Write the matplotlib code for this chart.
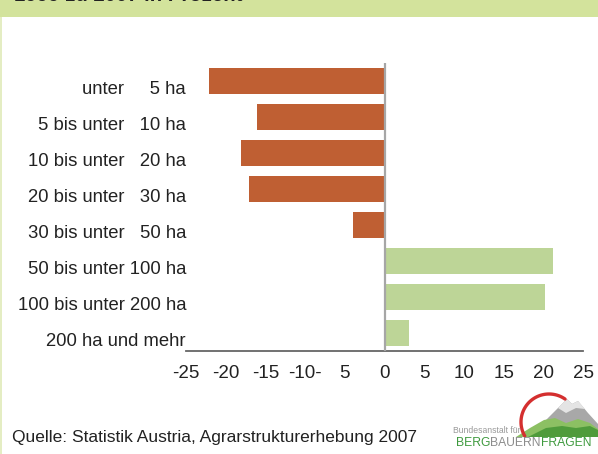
import matplotlib.pyplot as plt
import matplotlib.transforms as mtrans
import numpy as np
from matplotlib.patches import Polygon, Rectangle

plt.rcParams['font.family'] = ['Liberation Sans', 'DejaVu Sans']

# Veraenderung der Betriebe nach Groessenklassen, 1999 zu 2007 in Prozent
klassen = [
    "unter     5 ha",
    "5 bis unter   10 ha",
    "10 bis unter   20 ha",
    "20 bis unter   30 ha",
    "30 bis unter   50 ha",
    "50 bis unter 100 ha",
    "100 bis unter 200 ha",
    "200 ha und mehr",
]
werte = [-22.1, -16.1, -18.1, -17.1, -4.0, 21.2, 20.2, 3.1]

x_ticks = [-25, -20, -15, -10, -5, 0, 5, 10, 15, 20, 25]
x_labels = ["-25", "-20", "-15", "-10-", "5", "0", "5", "10", "15", "20", "25"]

rot = "#bf5f33"
gruen = "#bdd597"

fig = plt.figure(figsize=(5.98, 4.54), dpi=100)
fig.patch.set_facecolor("white")

W, H = 598, 454
ax = fig.add_axes([186 / W, 1 - 351 / H, 397 / W, 288 / H])

farben = [rot if v < 0 else gruen for v in werte]
pos = np.arange(len(klassen))
ax.barh(pos, werte, height=0.7, color=farben, zorder=2)
ax.axvline(0, color="#a6a6a6", lw=1.6, zorder=3)

ax.set_xlim(-25, 25)
ax.set_ylim(len(klassen) - 0.5, -0.5)
ax.set_yticks(pos)
ax.set_yticklabels(klassen, fontsize=13.3, color="#222222")
ax.set_xticks(x_ticks)
ax.set_xticklabels(x_labels, fontsize=13.5, color="#222222")
ax.tick_params(axis="y", length=0, pad=0)
ax.tick_params(axis="x", length=0, pad=10)
for s in ["left", "right", "top"]:
    ax.spines[s].set_visible(False)
ax.spines["bottom"].set_color("#666666")
ax.spines["bottom"].set_linewidth(1.3)

# Beschriftungen stehen etwas unter der Balkenmitte
versatz = mtrans.ScaledTranslation(0, -7 / 100, fig.dpi_scale_trans)
for lab in ax.get_yticklabels():
    lab.set_transform(lab.get_transform() + versatz)

# Rahmen, Titelbalken, Quelle und Logo in Pixelkoordinaten
deko = fig.add_axes([0, 0, 1, 1], zorder=5)
deko.set_xlim(0, W)
deko.set_ylim(H, 0)
deko.axis("off")
deko.patch.set_alpha(0)

deko.add_patch(Rectangle((0, 0), W, 16.5, color="#d3e39c", lw=0))
deko.add_patch(Rectangle((0, 16.5), 1.5, H, color="#e4edc3", lw=0))
deko.text(14, 1.2, "1999 zu 2007 in Prozent", fontsize=14.7, fontweight="bold",
          color="#222222", va="baseline", ha="left")

deko.text(12, 442, "Quelle: Statistik Austria, Agrarstrukturerhebung 2007",
          fontsize=12.5, color="#222222", va="baseline", ha="left")

# Logo Bergbauernfragen
berg = Polygon([(534, 432), (550, 416), (561, 405), (567, 399), (572, 404),
                (578, 401), (588, 413), (598, 424), (598, 432)],
               closed=True, color="#a8a8a8", lw=0)
deko.add_patch(berg)
schnee = Polygon([(558, 408), (567, 399), (572, 404), (578, 401), (585, 409),
                  (576, 408), (566, 413)],
                 closed=True, color="#e4e4e4", lw=0)
deko.add_patch(schnee)
wiese = Polygon([(516, 437), (530, 428), (544, 420), (555, 418), (566, 423),
                 (578, 419), (590, 423), (598, 429), (598, 437)],
                closed=True, color="#8cc063", lw=0)
deko.add_patch(wiese)
wiese2 = Polygon([(528, 437), (546, 428), (562, 426), (576, 428), (590, 426),
                  (598, 430), (598, 437)],
                 closed=True, color="#4f9b3b", lw=0)
deko.add_patch(wiese2)
t = np.radians(np.linspace(55, 210, 80))
deko.plot(549 + 28 * np.cos(t), 422 - 28 * np.sin(t), color="#d42f2f", lw=2.4,
          solid_capstyle="round")

deko.text(453, 433, "Bundesanstalt für", fontsize=6.2, color="#9a9a9a",
          va="baseline", ha="left")
x0 = 456
for teil, farbe in [("BERG", "#3f9a3f"), ("BAUERN", "#8c8c8c"), ("FRAGEN", "#3f9a3f")]:
    txt = deko.text(x0, 446.5, teil, fontsize=8.7, color=farbe,
                    va="baseline", ha="left")
    fig.canvas.draw()
    bb = txt.get_window_extent()
    x0 += bb.width * W / fig.bbox.width

fig.savefig("out.png", dpi=100)
